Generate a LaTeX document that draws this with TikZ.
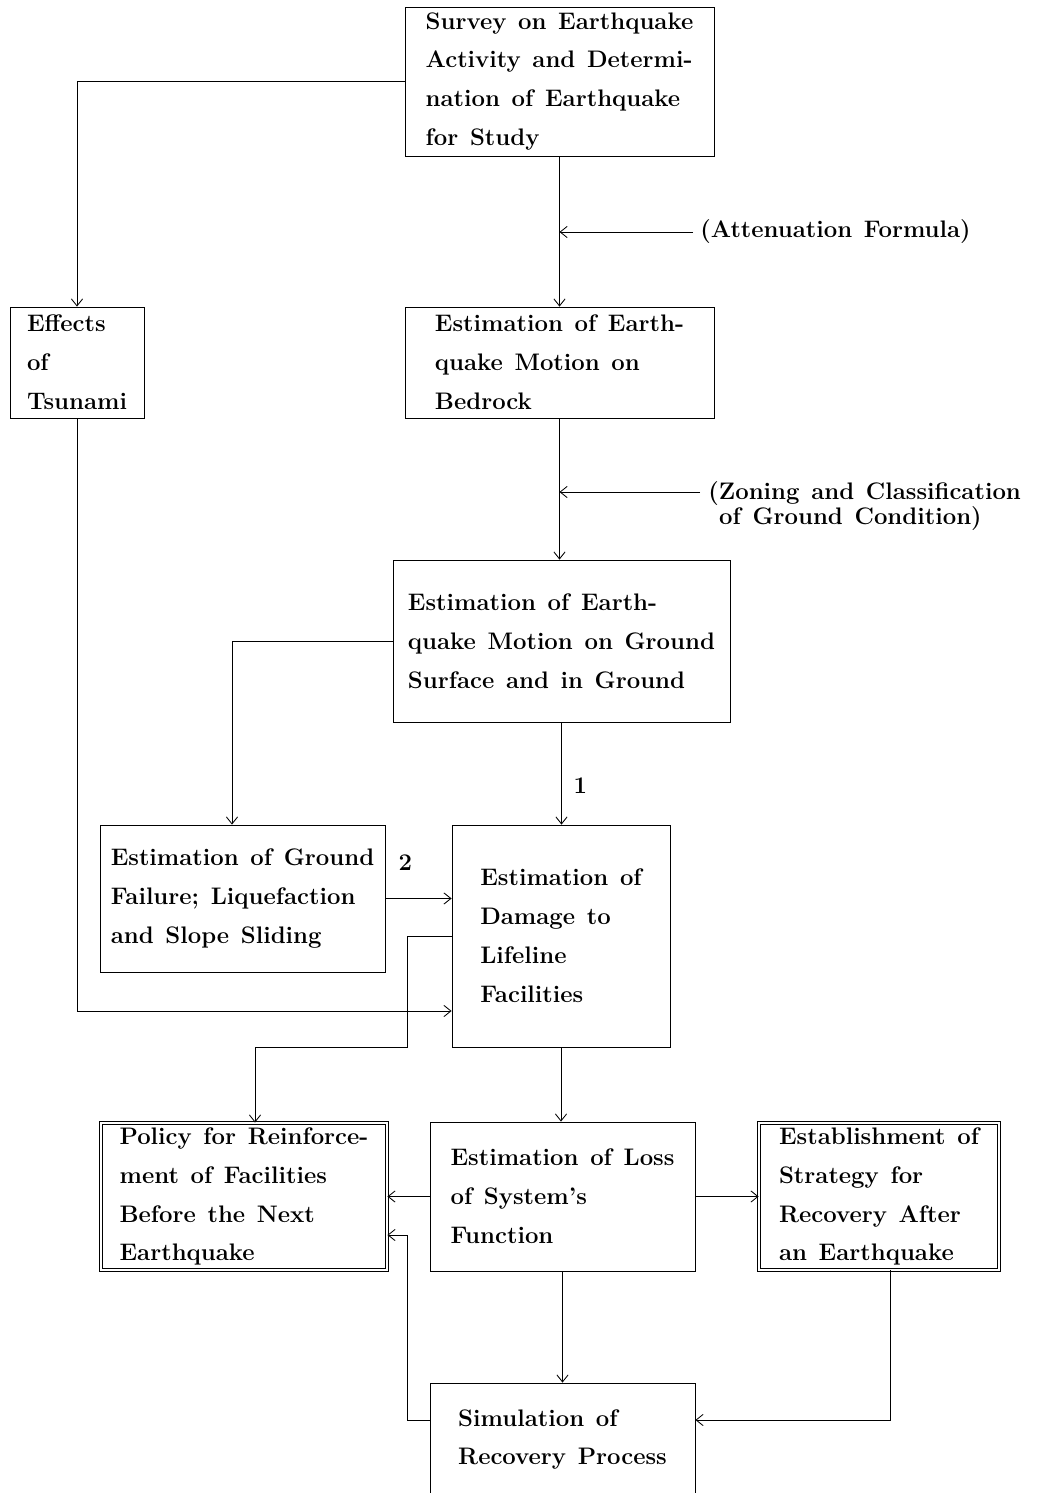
\documentclass[tikz,border=0pt]{standalone}
\usepackage{fontspec}
\setmainfont{Latin Modern Roman}[WordSpace=1.3]
\usetikzlibrary{arrows.meta}
\def\pxu{0.025cm}
\newcommand{\diagfont}{\fontsize{17}{27.7}\selectfont\bfseries}
\newcommand{\notefont}{\fontsize{17}{18.4}\selectfont\bfseries}
\tikzset{
  box/.style={draw, align=left, font=\diagfont, inner sep=0pt},
  dbox/.style={box, double, double distance=2pt},
  note/.style={font=\notefont, align=left}
}

\begin{document}
\begin{tikzpicture}[x=0.025cm, y=-0.025cm, line width=0.6pt, >={Straight Barb[length=5pt,width=8pt]}]
      \useasboundingbox (0,0) rectangle (1044,1493);
      \node[box, minimum width=309*\pxu, minimum height=149*\pxu] (survey) at (559.5,81.5)
        {Survey on Earthquake\\Activity and Determi-\\nation of Earthquake\\for Study};
      \node[box, minimum width=134*\pxu, minimum height=111*\pxu] (tsunami) at (77,362.5)
        {Effects\\of\\Tsunami};
      \node[box, minimum width=309*\pxu, minimum height=111*\pxu] (bedrock) at (559.5,362.5)
        {Estimation of Earth-\\quake Motion on\\Bedrock};
      \node[box, minimum width=337*\pxu, minimum height=162*\pxu] (ground) at (561.5,641)
        {Estimation of Earth-\\quake Motion on Ground\\Surface and in Ground};
      \node[box, minimum width=285*\pxu, minimum height=147*\pxu] (failure) at (242.5,898.5)
        {Estimation of Ground\\Failure; Liquefaction\\and Slope Sliding};
      \node[box, minimum width=218*\pxu, minimum height=222*\pxu] (damage) at (561,936)
        {Estimation of\\Damage to\\Lifeline\\Facilities};
      \node[dbox, minimum width=286*\pxu, minimum height=147*\pxu] (policy) at (244,1196.5)
        {Policy for Reinforce-\\ment of Facilities\\Before the Next\\Earthquake};
      \node[box, minimum width=265*\pxu, minimum height=149*\pxu] (loss) at (562.5,1196.5)
        {Estimation of Loss\\of System's\\Function};
      \node[dbox, minimum width=240*\pxu, minimum height=147*\pxu] (strategy) at (879,1196.5)
        {Establishment of\\Strategy for\\Recovery After\\an Earthquake};
      \node[box, minimum width=265*\pxu, minimum height=113*\pxu] (simulation) at (562.5,1439.5)
        {Simulation of\\Recovery Process};
      %% Side notes
      \node[note, anchor=west, inner xsep=7*\pxu] (atten) at (693,232) {(Attenuation Formula)};
      \node[note, anchor=west, inner sep=0pt] (zoning) at (708,506)
        {(Zoning and Classification\\\hspace{0.45em}of Ground Condition)};
      \coordinate (zonfrom) at (700,492);
      %% Main line
      \draw[->] (survey.south) -- (bedrock.north);
      \draw[->] (atten.west) -- (survey.south |- atten.west);
      \draw[->] (bedrock.south) -- (bedrock.south |- ground.north);
      \draw[->] (zonfrom) -- (bedrock.south |- zonfrom);
      \draw[->] (ground.south) -- node[right, pos=0.62, font=\diagfont, xshift=7*\pxu] {1} (ground.south |- damage.north);
      \draw[->] (damage.south) -- (damage.south |- loss.north);
      \draw[->] (loss) -- (simulation);
      %% Branches
      \draw[->] (survey.west) -| (tsunami.north);
      \draw[->] (ground.west) -| ([xshift=-10.5*\pxu]failure.north);
      \draw[->] (failure.east) -- node[above=16pt, pos=0.3, font=\diagfont] {2} (failure.east -| damage.west);
      \draw[->] (tsunami.south) |- ([yshift=-75*\pxu]damage.west);
      \draw[->] (damage.west) -- ++(-44,0) -- ++(0,111) -| ([xshift=11*\pxu]policy.north);
      \draw[->] (loss) -- (policy);
      \draw[->] (loss) -- (strategy);
      %% Feedback to simulation and policy
      \draw[->] ([xshift=11*\pxu]strategy.south) |- ([yshift=19.5*\pxu]simulation.east);
      \draw[->] ([yshift=19.5*\pxu]simulation.west) -- ++(-22,0) |- ([yshift=-38.5*\pxu]policy.east);
    \end{tikzpicture}
\end{document}
